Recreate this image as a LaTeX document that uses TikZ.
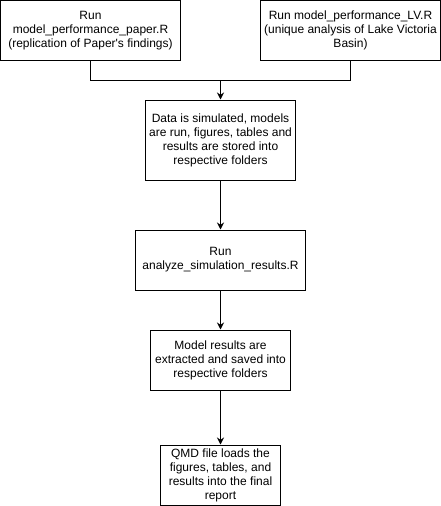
\documentclass[tikz,border=0pt]{standalone}
\usepackage{fontspec}
\setmainfont{Liberation Sans}
\usetikzlibrary{arrows.meta}
\begin{document}
\begin{tikzpicture}[x=1pt,y=-1pt,
  box/.style={draw,line width=1pt,rectangle,inner sep=0pt,align=center,
    font=\fontsize{12}{14}\selectfont},
  conn/.style={line width=1pt},
  arr/.style={line width=1pt,-{Stealth[length=7pt,width=7pt]}}]
\useasboundingbox (0,0) rectangle (441,506);
\node[box,minimum width=180pt,minimum height=60pt] (b1) at (90.5,30.5)
  {Run\\model\_performance\_paper.R\\(replication of Paper\textquotesingle s findings)};
\node[box,minimum width=180pt,minimum height=60pt] (b2) at (350.5,30.5)
  {Run model\_performance\_LV.R\\(unique analysis of Lake Victoria\\Basin)};
\node[box,minimum width=150pt,minimum height=80pt] (b3) at (220.5,140)
  {Data is simulated, models\\are run, figures, tables and\\results are stored into\\respective folders};
\node[box,minimum width=170pt,minimum height=60pt] (b4) at (220.5,260)
  {Run\\analyze\_simulation\_results.R};
\node[box,minimum width=140pt,minimum height=60pt] (b5) at (220.5,360)
  {Model results are\\extracted and saved into\\respective folders};
\node[box,minimum width=120pt,minimum height=60pt] (b6) at (220.5,475)
  {QMD file loads the\\figures, tables, and\\results into the final\\report};
\coordinate (j) at (220.5,80.5);
\draw[conn] (b1.south) |- (j);
\draw[conn] (b2.south) |- (j);
\draw[arr] (j) -- (b3.north);
\draw[arr] (b3.south) -- (b4.north);
\draw[arr] (b4.south) -- (b5.north);
\draw[arr] (b5.south) -- (b6.north);
\end{tikzpicture}
\end{document}
